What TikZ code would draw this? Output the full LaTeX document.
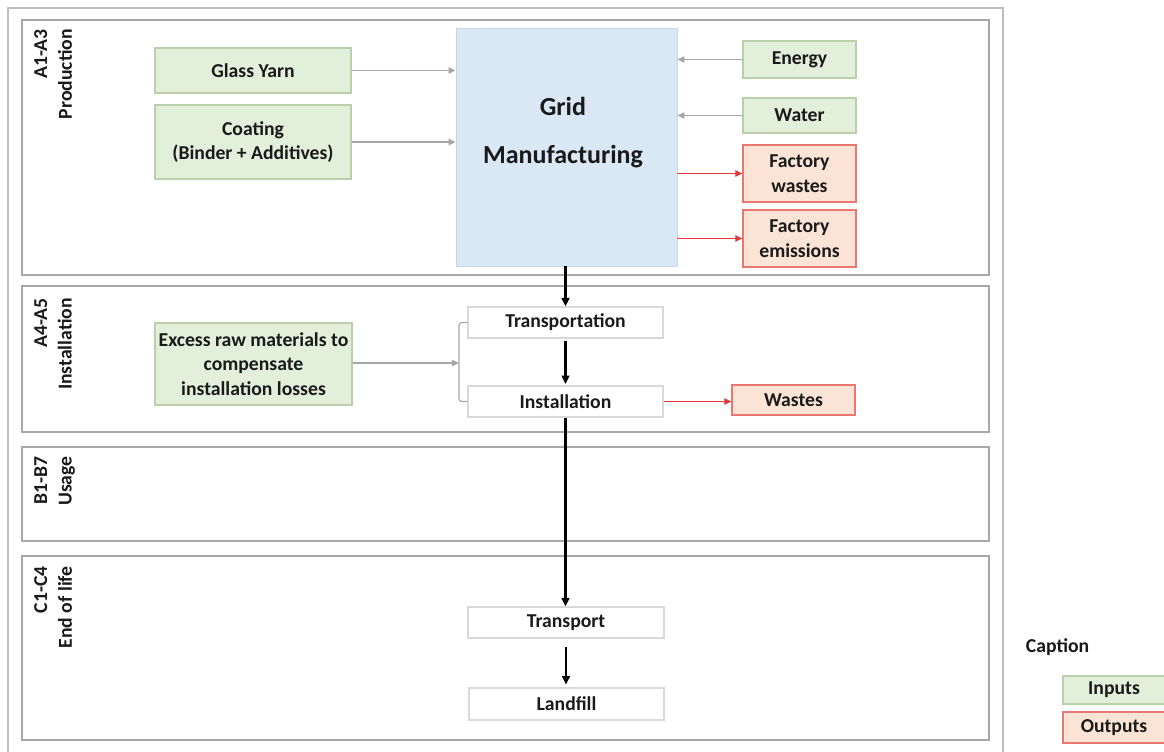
\documentclass[tikz,border=0pt]{standalone}
\usepackage{fontspec}
\setmainfont{Carlito}
\usetikzlibrary{arrows.meta,fit}
\definecolor{ingreen}{HTML}{E2EFDA}
\definecolor{ingreenb}{HTML}{B9D0A9}
\definecolor{outred}{HTML}{FBE4D6}
\definecolor{outredb}{HTML}{E87870}
\definecolor{gridblue}{HTML}{DAE7F5}
\definecolor{gridblueb}{HTML}{C8D6E6}
\definecolor{secgray}{HTML}{A8A8A8}
\definecolor{framegray}{HTML}{BFBFBF}
\definecolor{arrgray}{HTML}{A6A6A6}
\definecolor{arrred}{HTML}{E03a3a}
\definecolor{txt}{HTML}{1A1A1A}
\begin{document}
\begin{tikzpicture}[x=0.025cm,y=-0.025cm,
  every node/.style={font=\fontsize{14}{17.5}\selectfont\bfseries, text=txt},
  section/.style={draw=secgray, line width=1.3pt},
  inbox/.style={draw=ingreenb, fill=ingreen, line width=0.9pt, align=center, inner sep=0pt},
  outbox/.style={draw=outredb, fill=outred, line width=0.9pt, align=center, inner sep=0pt},
  procbox/.style={draw=black!15, fill=white, line width=0.9pt, align=center, inner sep=0pt},
  seclabel/.style={rotate=90, anchor=north east, align=right, inner sep=0pt},
  grayarrow/.style={draw=arrgray, line width=0.9pt, -{Triangle[length=5pt,width=4.5pt]}},
  redarrow/.style={draw=arrred, line width=0.9pt, -{Triangle[length=5pt,width=4.5pt]}},
  blackarrow/.style={draw=black, line width=1.7pt, -{Triangle[length=6pt,width=5.5pt]}}]
\useasboundingbox (0,0) rectangle (1164,751);
\fill[white] (0,0) rectangle (1164,751);
% outer frame
\draw[framegray, line width=1.3pt] (8,8) rectangle (1003,770);
% sections
\draw[section] (22,20) rectangle (989,275);
\draw[section] (22,286) rectangle (989,432);
\draw[section] (22,447) rectangle (989,541);
\draw[section] (22,556) rectangle (989,740);
% section labels
\node[seclabel] (lab1) at (34,29) {A1-A3\\Production};
\node[seclabel] (lab2) at (34,298) {A4-A5\\Installation};
\node[seclabel] (lab3) at (34,456) {B1-B7\\Usage};
\node[seclabel] (lab4) at (34,566) {C1-C4\\End of life};
% production
\node[draw=gridblueb, fill=gridblue, line width=0.6pt, inner sep=0pt, fit={(456,28) (677,266)}] (grid) {};
\node[font=\fontsize{18.5}{22}\selectfont\bfseries] (gridt1) at (563,106) {Grid};
\node[font=\fontsize{18.5}{22}\selectfont\bfseries] (gridt2) at (563,157) {Manufacturing};
\node[inbox, fit={(155,48) (351,93)}] (gy) {};
\node (gyt) at (gy.center) {Glass Yarn};
\node[inbox, fit={(155,105) (351,179)}] (co) {};
\node[align=center] (cot) at (co.center) {Coating\\(Binder + Additives)};
\node[inbox, fit={(743,41) (856,78)}] (en) {};
\node (ent) at (en.center) {Energy};
\node[inbox, fit={(743,98) (856,133)}] (wa) {};
\node (wat) at (wa.center) {Water};
\node[outbox, fit={(743,145) (856,202)}] (fw) {};
\node[align=center] (fwt) at (fw.center) {Factory\\wastes};
\node[outbox, fit={(743,210) (856,267)}] (fe) {};
\node[align=center] (fet) at (fe.center) {Factory\\emissions};
\draw[grayarrow] (gy.east) -- (gy.east -| grid.west);
\draw[grayarrow] (co.east) -- (co.east -| grid.west);
\draw[grayarrow] (en.west) -- (en.west -| grid.east);
\draw[grayarrow] (wa.west) -- (wa.west -| grid.east);
\draw[redarrow] (fw.west -| grid.east) -- (fw.west);
\draw[redarrow] (fe.west -| grid.east) -- (fe.west);
% installation
\node[procbox, fit={(468,307) (663,338)}] (tr) {};
\node (trt) at (tr.center) {Transportation};
\node[procbox, fit={(468,386) (663,417)}] (ins) {};
\node (inst) at (ins.center) {Installation};
\node[inbox, fit={(155,323) (352,405)}] (ex) {};
\node[align=center] (ext) at (ex.center) {Excess raw materials to\\compensate\\installation losses};
\node[outbox, fit={(732,385) (855,415)}] (ws) {};
\node (wst) at (ws.center) {Wastes};
\coordinate (brk) at (459,363);
\draw[arrgray, line width=0.8pt, rounded corners=2pt] (tr.west) -| (brk) |- (ins.west);
\draw[grayarrow] (ex.east |- brk) -- (brk);
\draw[redarrow] (ins.east) -- (ins.east -| ws.west);
% end of life
\node[procbox, fit={(468,607) (664,638)}] (tp) {};
\node (tpt) at (tp.center) {Transport};
\node[procbox, fit={(469,688) (664,720)}] (lf) {};
\node (lft) at (lf.center) {Landfill};
% black flow arrows
\draw[blackarrow] (grid.south -| tr.north) -- (tr.north);
\draw[blackarrow, shorten <=2pt, shorten >=1pt] (tr.south) -- (ins.north);
\draw[blackarrow] (ins.south) -- (ins.south |- tp.north);
\draw[blackarrow, shorten <=6pt, shorten >=2pt] (tp.south) -- (tp.south |- lf.north);
% caption
\node[anchor=west] (cap) at (1021,647) {Caption};
\node[inbox, fit={(1063,676) (1166,704)}] (inp) {};
\node (inpt) at (1114,690) {Inputs};
\node[outbox, fit={(1063,712) (1166,743)}] (outp) {};
\node (outpt) at (1114,727.5) {Outputs};
\end{tikzpicture}
\end{document}
